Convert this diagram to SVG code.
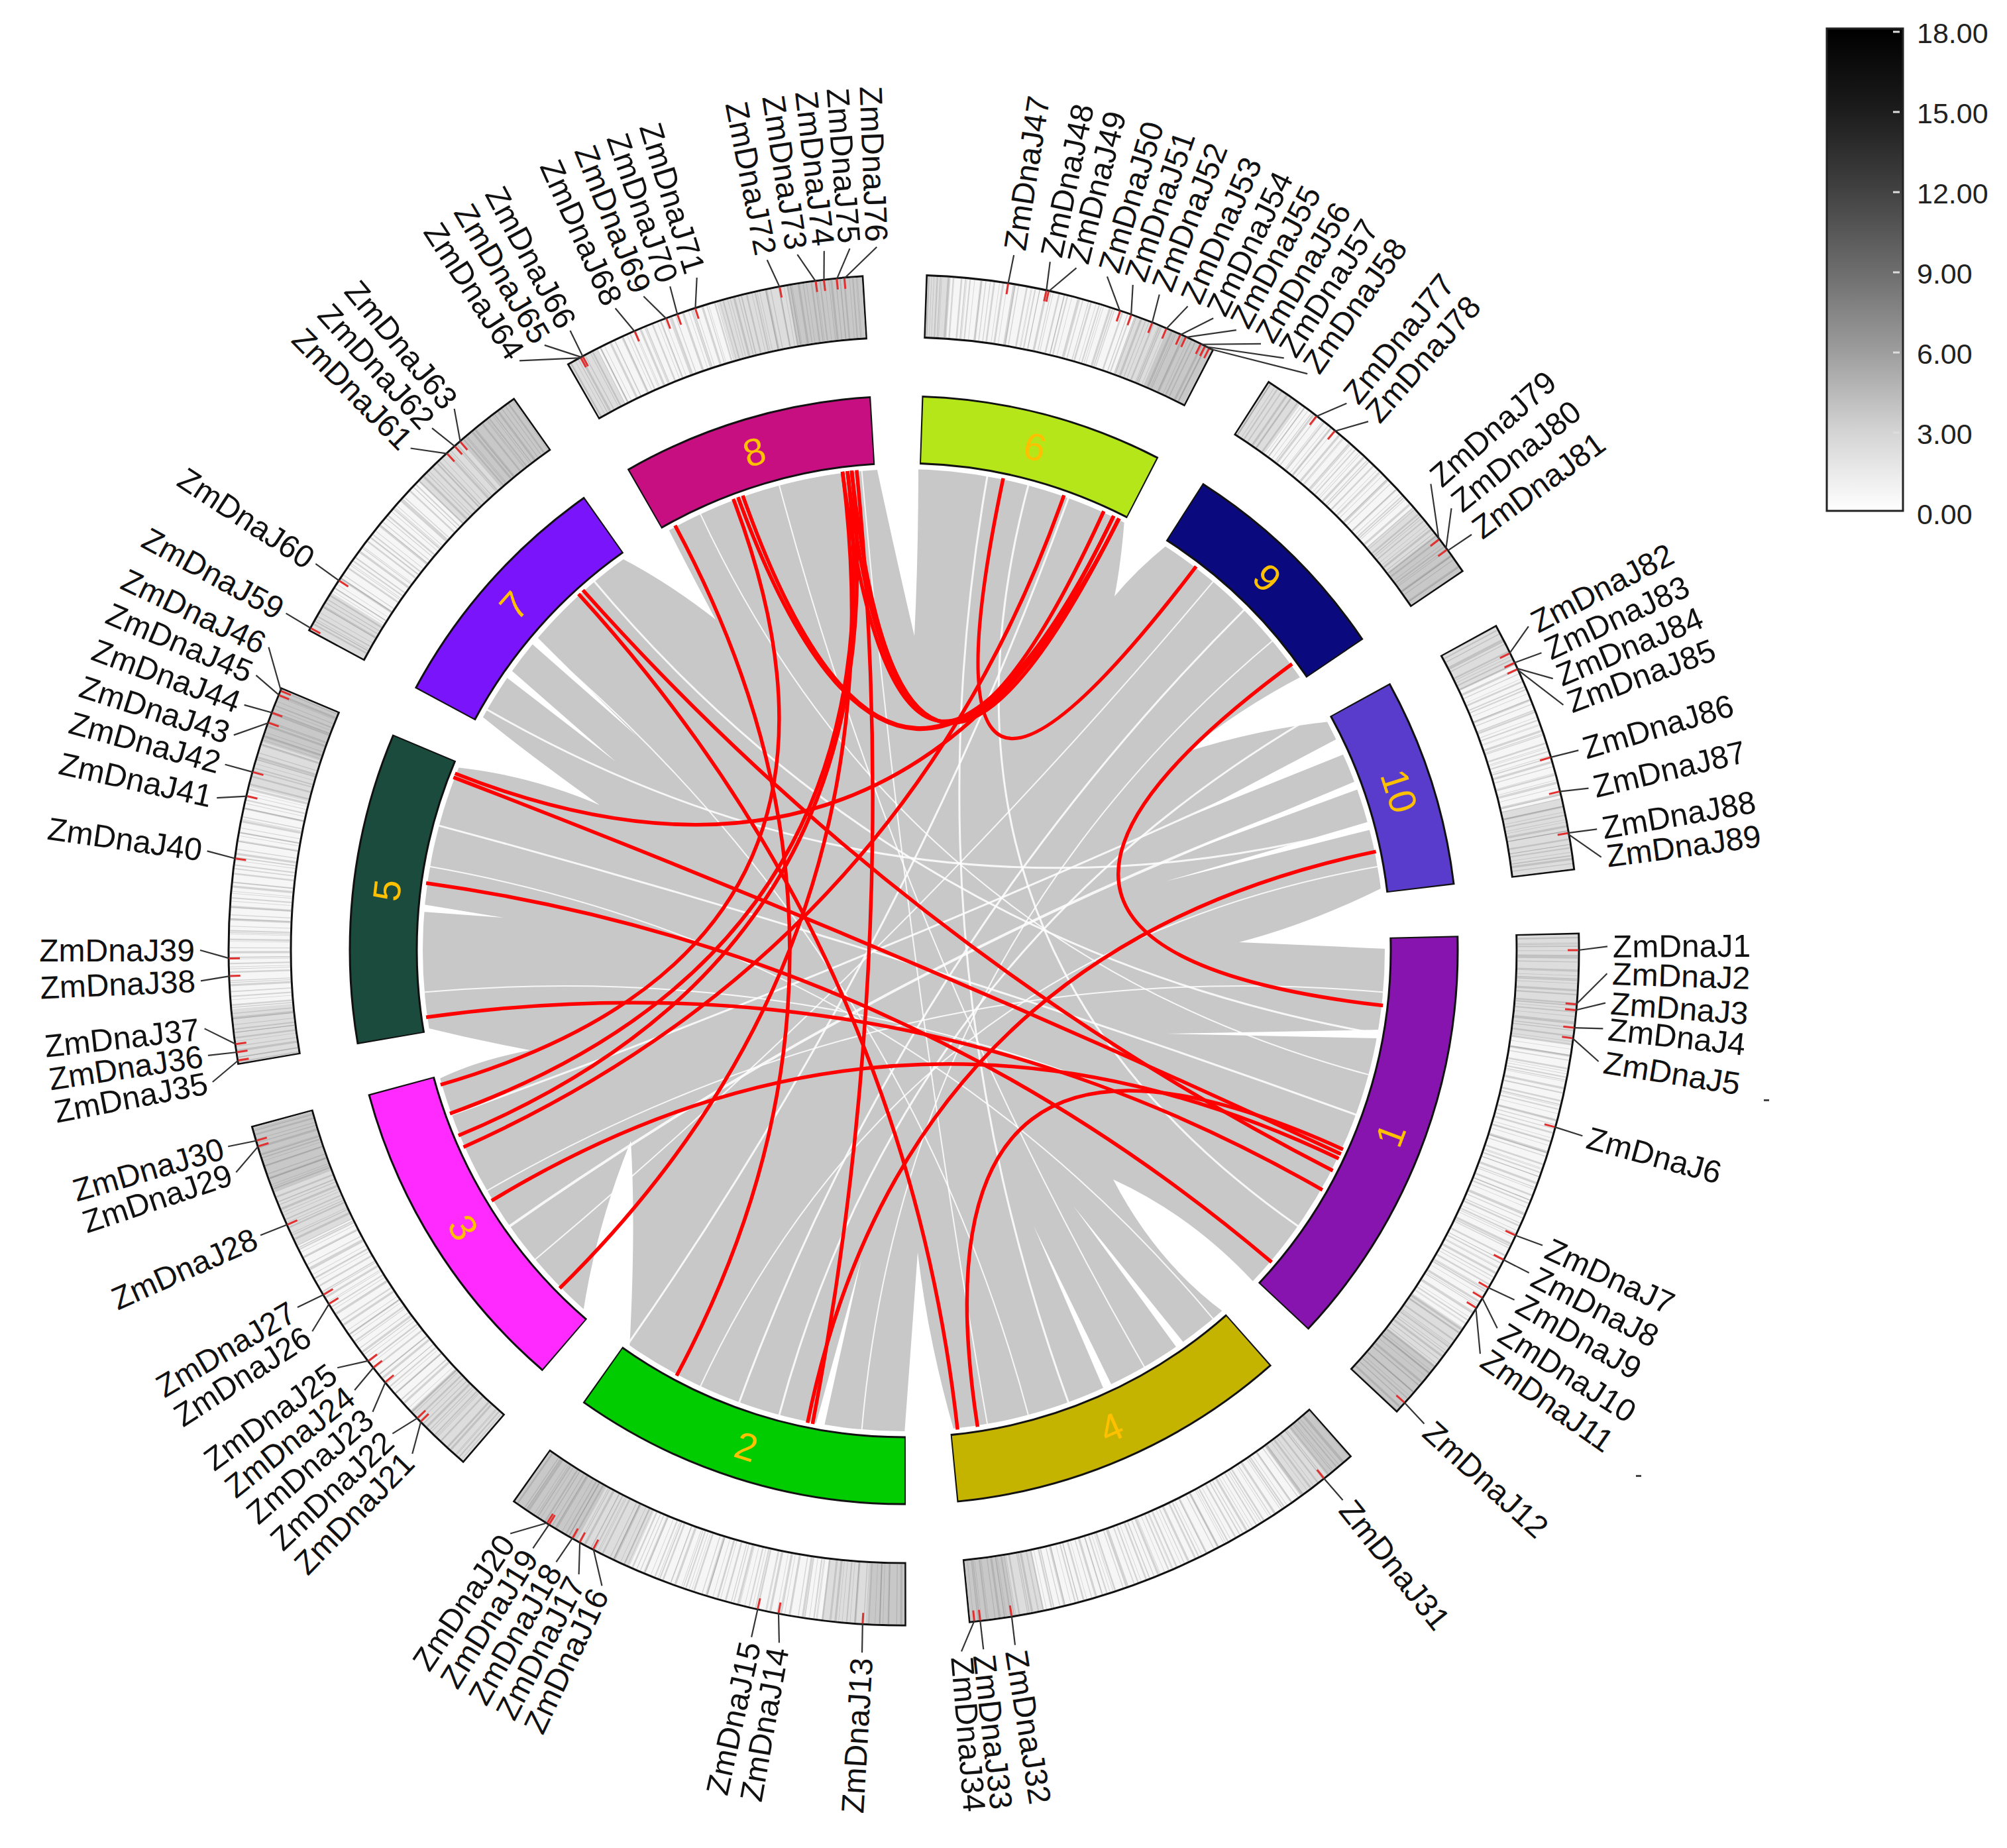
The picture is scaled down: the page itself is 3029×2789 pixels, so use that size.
<svg xmlns="http://www.w3.org/2000/svg" width="3029" height="2789" viewBox="0 0 3029 2789">
<style>
text{dominant-baseline:central;font-family:"Liberation Sans",Arial,sans-serif}
.lbl text{font-size:48px;fill:#111}
.lr{text-anchor:start}
.ll{text-anchor:end}
.cn{stroke:#333;stroke-width:2.2;fill:none}
.rl{stroke:#ff0000;stroke-width:5.5;fill:none}
.wl{stroke:#fff;fill:none;stroke-opacity:.85}
.wd{fill:#fff}
.tk line{stroke:#e03030;stroke-width:3}
.num{font-size:58px;fill:#FFC000;text-anchor:middle}
.rg{fill:none}
.cb{font-size:43px;fill:#222}
</style>
<defs>
<linearGradient id="cbg" x1="0" y1="0" x2="0" y2="1">
<stop offset="0" stop-color="#000"/><stop offset="0.17" stop-color="#1c1c1c"/><stop offset="0.33" stop-color="#404040"/><stop offset="0.5" stop-color="#6c6c6c"/><stop offset="0.67" stop-color="#9d9d9d"/><stop offset="0.83" stop-color="#d2d2d2"/><stop offset="1" stop-color="#fff"/>
</linearGradient>
<mask id="dm" maskUnits="userSpaceOnUse" x="0" y="0" width="3029" height="2789">
<circle cx="1364" cy="1434" r="972" fill="none" stroke="#fff" stroke-width="91" pathLength="360" stroke-dasharray="25.15 5.6 22.99 5.6 21.68 5.6 44.38 5.6 35.7 5.6 35.27 5.6 33.97 5.6 32.38 5.6 26.31 5.6 26.17 5.6" stroke-dashoffset="-2.03" transform="rotate(-90 1364 1434)"/>
</mask>
</defs>
<rect width="3029" height="2789" fill="#fff"/>

<g id="links">
<circle cx="1364" cy="1434" r="726" fill="#c8c8c8"/>
<path class="wd" d="M1323,705 Q1352,840 1380,960 Q1386,840 1386,704 L1387,690 L1323,690 Z"/>
<path class="wd" d="M1697,784 Q1692,850 1682,900 Q1715,860 1762,822 L1770,808 L1702,770 Z"/>
<path class="wd" d="M1966,1020 Q1870,1070 1790,1135 Q1900,1100 2007,1089 L2020,1082 L1978,1012 Z"/>
<path class="wd" d="M2088,1339 Q1975,1395 1870,1422 Q1985,1427 2094,1432 L2110,1432 L2104,1337 Z"/>
<path class="wd" d="M1894,1937 Q1800,1835 1680,1780 Q1745,1905 1848,1981 L1858,1992 L1904,1948 Z"/>
<path class="wd" d="M1440,2160 Q1400,2020 1385,1890 Q1375,2030 1365,2164 L1361,2180 L1442,2176 Z"/>
<path class="wd" d="M950,2036 Q960,1850 952,1722 Q900,1850 880,1981 L870,1992 L958,2048 Z"/>
<path class="wd" d="M661,1629 Q720,1600 800,1585 Q720,1570 643,1551 L630,1548 L646,1634 Z"/>
<path class="wd" d="M688,1158 Q800,1170 905,1215 Q800,1140 726,1080 L714,1070 L674,1155 Z"/>
<path class="wd" d="M937,842 Q1010,880 1080,935 Q1040,860 1008,797 L1000,785 L928,830 Z"/>
<path class="wd" d="M2018,1115 L1800,1230 L2029,1138 Z"/>
<path class="wd" d="M2066,1240 L1760,1330 L2069,1252 Z"/>
<path class="wd" d="M2046,1179 L1780,1290 L2050,1191 Z"/>
<path class="wd" d="M764,1022 L930,1150 L771,1011 Z"/>
<path class="wd" d="M802,971 L960,1110 L810,961 Z"/>
<path class="wd" d="M2082,1554 L1760,1560 L2080,1567 Z"/>
<path class="wd" d="M1678,2091 L1560,1850 L1666,2097 Z"/>
<path class="wd" d="M1787,2027 L1620,1820 L1776,2034 Z"/>
<path class="wd" d="M1244,2152 L1300,1900 L1231,2150 Z"/>
<path class="wd" d="M638,1376 L760,1385 L639,1365 Z"/>
<path class="wl" stroke-width="3" d="M2023.8,1126.3 Q1364,1434 679.9,1683"/>
<path class="wl" stroke-width="4" d="M2048.1,1185 Q1364,1434 767.6,1851.6"/>
<path class="wl" stroke-width="3" d="M2067.2,1245.6 Q1364,1434 733.5,1070"/>
<path class="wl" stroke-width="3" d="M1878.8,919.2 Q1364,1434 1115,2118.1"/>
<path class="wl" stroke-width="2" d="M1832,876.4 Q1364,1434 806.3,1902"/>
<path class="wl" stroke-width="3" d="M2080.9,1560.4 Q1364,1434 896,876.4"/>
<path class="wl" stroke-width="2" d="M2067.2,1622.4 Q1364,1434 1056.3,774.2"/>
<path class="wl" stroke-width="3" d="M2048.1,1683 Q1364,1434 660.8,1245.6"/>
<path class="wl" stroke-width="3" d="M1960.4,1851.6 Q1364,1434 1552.4,730.8"/>
<path class="wl" stroke-width="2" d="M1728,2064.4 Q1364,1434 1175.6,730.8"/>
<path class="wl" stroke-width="3" d="M1613,2118.1 Q1364,1434 1490.4,717.1"/>
<path class="wl" stroke-width="3" d="M1175.6,2137.2 Q1364,1434 2000.4,1070"/>
<path class="wl" stroke-width="2" d="M1056.3,2093.8 Q1364,1434 2080.9,1307.6"/>
<path class="wl" stroke-width="2" d="M733.5,1798 Q1364,1434 2089.2,1497.5"/>
<path class="wl" stroke-width="2" d="M638.8,1497.5 Q1364,1434 2000.4,1798"/>
<path class="wl" stroke-width="2" d="M647.1,1307.6 Q1364,1434 1832,1991.6"/>
<path class="wl" stroke-width="2" d="M806.3,966 Q1364,1434 1552.4,2137.2"/>
<path class="wl" stroke-width="3" d="M1613,749.9 Q1364,1434 946.4,2030.4"/>
<path class="wl" stroke-width="2" d="M1921.7,966 Q1364,1434 1300.5,2159.2"/>
<path class="wl" stroke-width="2" d="M1300.5,708.8 Q1364,1434 1490.4,2150.9"/>
<path class="rl" d="M1271.5,711.9 Q1364,1434 1665.9,771.5"/>
<path class="rl" d="M1279,711 Q1364,1434 1680.8,778.6"/>
<path class="rl" d="M1285.4,710.2 Q1364,1434 1688.8,782.5"/>
<path class="rl" d="M1113.8,750.3 Q1364,1434 1688.8,782.5"/>
<path class="rl" d="M1121,747.8 Q1364,1434 1680.8,778.6"/>
<path class="rl" d="M1292.9,709.5 Q1364,1434 1226.3,2148.9"/>
<path class="rl" d="M1018.8,793 Q1364,1434 1021.1,2076.2"/>
<path class="rl" d="M873.1,896.4 Q1364,1434 1445.2,2157.5"/>
<path class="rl" d="M879.7,890.5 Q1364,1434 2011.5,1766.8"/>
<path class="rl" d="M1514.1,721.7 Q1364,1434 1805.2,854.9"/>
<path class="rl" d="M1950,1002 Q1364,1434 2087.2,1517.6"/>
<path class="rl" d="M2076.6,1285.1 Q1364,1434 1218.8,2147.4"/>
<path class="rl" d="M686.7,1167.2 Q1364,1434 1688.8,782.5"/>
<path class="rl" d="M684.3,1173.1 Q1364,1434 2023.8,1741.7"/>
<path class="rl" d="M643.1,1332.7 Q1364,1434 1919.2,1904.9"/>
<path class="rl" d="M643.1,1535.3 Q1364,1434 1995.8,1795.8"/>
<path class="rl" d="M1475.4,2153.4 Q1364,1434 2027,1734.7"/>
<path class="rl" d="M664.9,1637.1 Q1364,1434 1106.7,753"/>
<path class="rl" d="M679,1680.6 Q1364,1434 1279,711"/>
<path class="rl" d="M691.9,1713.8 Q1364,1434 1285.4,710.2"/>
<path class="rl" d="M699.5,1731.2 Q1364,1434 1605.8,747.3"/>
<path class="rl" d="M741.9,1812.2 Q1364,1434 2020.5,1748.6"/>
<path class="rl" d="M844.7,1944.3 Q1364,1434 1271.5,711.9"/>
</g>

<g id="chromosomes">
<circle class="rg" cx="1364" cy="1434" r="785.5" stroke="#111" stroke-width="104" pathLength="360" stroke-dasharray="25.45 5.3 23.29 5.3 21.98 5.3 44.68 5.3 36 5.3 35.57 5.3 34.27 5.3 32.68 5.3 26.61 5.3 26.47 5.3" stroke-dashoffset="-1.88" transform="rotate(-90 1364 1434)"/>
<g id="chr6"><circle class="rg" cx="1364" cy="1434" r="785.5" stroke="#B5E61A" stroke-width="98" pathLength="360" stroke-dasharray="25.15 400" stroke-dashoffset="-2.03" transform="rotate(-90 1364 1434)"/><text class="num" x="1364" y="648.5" transform="rotate(14.6 1364 1434)">6</text></g>
<g id="chr9"><circle class="rg" cx="1364" cy="1434" r="785.5" stroke="#0A0A7E" stroke-width="98" pathLength="360" stroke-dasharray="22.99 400" stroke-dashoffset="-32.78" transform="rotate(-90 1364 1434)"/><text class="num" x="1364" y="648.5" transform="rotate(44.3 1364 1434)">9</text></g>
<g id="chr10"><circle class="rg" cx="1364" cy="1434" r="785.5" stroke="#5A3CCC" stroke-width="98" pathLength="360" stroke-dasharray="21.68 400" stroke-dashoffset="-61.37" transform="rotate(-90 1364 1434)"/><text class="num" x="1364" y="648.5" transform="rotate(72.2 1364 1434)">10</text></g>
<g id="chr1"><circle class="rg" cx="1364" cy="1434" r="785.5" stroke="#8714AF" stroke-width="98" pathLength="360" stroke-dasharray="44.38 400" stroke-dashoffset="-88.65" transform="rotate(-90 1364 1434)"/><text class="num" x="1364" y="2219.5" transform="rotate(-69.2 1364 1434)">1</text></g>
<g id="chr4"><circle class="rg" cx="1364" cy="1434" r="785.5" stroke="#C4B400" stroke-width="98" pathLength="360" stroke-dasharray="35.7 400" stroke-dashoffset="-138.63" transform="rotate(-90 1364 1434)"/><text class="num" x="1364" y="2219.5" transform="rotate(-23.5 1364 1434)">4</text></g>
<g id="chr2"><circle class="rg" cx="1364" cy="1434" r="785.5" stroke="#00CC00" stroke-width="98" pathLength="360" stroke-dasharray="35.27 400" stroke-dashoffset="-179.93" transform="rotate(-90 1364 1434)"/><text class="num" x="1364" y="2219.5" transform="rotate(17.6 1364 1434)">2</text></g>
<g id="chr3"><circle class="rg" cx="1364" cy="1434" r="785.5" stroke="#FF2AFF" stroke-width="98" pathLength="360" stroke-dasharray="33.97 400" stroke-dashoffset="-220.8" transform="rotate(-90 1364 1434)"/><text class="num" x="1364" y="2219.5" transform="rotate(57.8 1364 1434)">3</text></g>
<g id="chr5"><circle class="rg" cx="1364" cy="1434" r="785.5" stroke="#1B4B3C" stroke-width="98" pathLength="360" stroke-dasharray="32.38 400" stroke-dashoffset="-260.37" transform="rotate(-90 1364 1434)"/><text class="num" x="1364" y="648.5" transform="rotate(276.6 1364 1434)">5</text></g>
<g id="chr7"><circle class="rg" cx="1364" cy="1434" r="785.5" stroke="#7A14FA" stroke-width="98" pathLength="360" stroke-dasharray="26.31 400" stroke-dashoffset="-298.35" transform="rotate(-90 1364 1434)"/><text class="num" x="1364" y="648.5" transform="rotate(311.5 1364 1434)">7</text></g>
<g id="chr8"><circle class="rg" cx="1364" cy="1434" r="785.5" stroke="#C80F82" stroke-width="98" pathLength="360" stroke-dasharray="26.17 400" stroke-dashoffset="-330.26" transform="rotate(-90 1364 1434)"/><text class="num" x="1364" y="648.5" transform="rotate(343.3 1364 1434)">8</text></g>
</g>

<g id="density">
<circle class="rg" cx="1364" cy="1434" r="972" stroke="#111" stroke-width="97" pathLength="360" stroke-dasharray="25.45 5.3 23.29 5.3 21.98 5.3 44.68 5.3 36 5.3 35.57 5.3 34.27 5.3 32.68 5.3 26.61 5.3 26.47 5.3" stroke-dashoffset="-1.88" transform="rotate(-90 1364 1434)"/>
<circle class="rg" cx="1364" cy="1434" r="972" stroke="#f6f6f6" stroke-width="91" pathLength="360" stroke-dasharray="25.15 5.6 22.99 5.6 21.68 5.6 44.38 5.6 35.7 5.6 35.27 5.6 33.97 5.6 32.38 5.6 26.31 5.6 26.17 5.6" stroke-dashoffset="-2.03" transform="rotate(-90 1364 1434)"/>
<g mask="url(#dm)">
<circle class="rg" cx="1364" cy="1434" r="972" stroke="#b8b8b8" stroke-opacity="0.4" stroke-width="91" pathLength="360" stroke-dasharray="1.97 16 7.18 5.6 3.22 13 6.77 5.6 3.63 12 6.05 5.6 9.35 26 9.03 5.6 5.37 24 6.33 5.6 7.07 17 11.2 5.6 6.2 17 10.77 5.6 4.63 19 8.75 5.6 3.65 12 10.66 5.6 2.74 11 12.43 5.6" stroke-dashoffset="-2.03" transform="rotate(-90 1364 1434)"/>
<circle class="rg" cx="1364" cy="1434" r="972" stroke="#999" stroke-opacity="0.3" stroke-width="91" pathLength="360" stroke-dasharray="4.18 24.82 3.77 72.23 5.03 5.6 2.37 29.5 3.83 5.6 3.07 26 6.2 33.8 5.77 33.23 4.75 26.25 5.66 25.34 6.43 26.57" stroke-dashoffset="-23" transform="rotate(-90 1364 1434)"/>
<circle class="rg" cx="1364" cy="1434" r="972" stroke="#7a7a7a" stroke-opacity="0.28" stroke-width="91" pathLength="360" stroke-dasharray="0.12 0.3 0.05 0.45 0.2 0.25 0.08 0.6 0.15 0.35 0.05 0.2" transform="rotate(-90 1364 1434)"/>
<circle class="rg" cx="1364" cy="1434" r="972" stroke="#4a4a4a" stroke-opacity="0.22" stroke-width="91" pathLength="360" stroke-dasharray="0.05 0.9 0.1 1.3 0.04 0.7 0.07 1.1" transform="rotate(-90 1364 1434)"/>
</g>
<g class="tk">
<line x1="2366" y1="1434" x2="2382" y2="1434" transform="rotate(0 1364 1434)"/>
<line x1="2366" y1="1434" x2="2382" y2="1434" transform="rotate(4.6 1364 1434)"/>
<line x1="2366" y1="1434" x2="2382" y2="1434" transform="rotate(5.1 1364 1434)"/>
<line x1="2366" y1="1434" x2="2382" y2="1434" transform="rotate(6.6 1364 1434)"/>
<line x1="2366" y1="1434" x2="2382" y2="1434" transform="rotate(7.5 1364 1434)"/>
<line x1="2366" y1="1434" x2="2382" y2="1434" transform="rotate(15.2 1364 1434)"/>
<line x1="2366" y1="1434" x2="2382" y2="1434" transform="rotate(25 1364 1434)"/>
<line x1="2366" y1="1434" x2="2382" y2="1434" transform="rotate(27.3 1364 1434)"/>
<line x1="2366" y1="1434" x2="2382" y2="1434" transform="rotate(30 1364 1434)"/>
<line x1="2366" y1="1434" x2="2382" y2="1434" transform="rotate(31 1364 1434)"/>
<line x1="2366" y1="1434" x2="2382" y2="1434" transform="rotate(32 1364 1434)"/>
<line x1="2366" y1="1434" x2="2382" y2="1434" transform="rotate(42.1 1364 1434)"/>
<line x1="2366" y1="1434" x2="2382" y2="1434" transform="rotate(93.5 1364 1434)"/>
<line x1="2366" y1="1434" x2="2382" y2="1434" transform="rotate(100.7 1364 1434)"/>
<line x1="2366" y1="1434" x2="2382" y2="1434" transform="rotate(102.5 1364 1434)"/>
<line x1="2366" y1="1434" x2="2382" y2="1434" transform="rotate(117.4 1364 1434)"/>
<line x1="2366" y1="1434" x2="2382" y2="1434" transform="rotate(118.7 1364 1434)"/>
<line x1="2366" y1="1434" x2="2382" y2="1434" transform="rotate(119.4 1364 1434)"/>
<line x1="2366" y1="1434" x2="2382" y2="1434" transform="rotate(121.7 1364 1434)"/>
<line x1="2366" y1="1434" x2="2382" y2="1434" transform="rotate(121.9 1364 1434)"/>
<line x1="2366" y1="1434" x2="2382" y2="1434" transform="rotate(135.7 1364 1434)"/>
<line x1="2366" y1="1434" x2="2382" y2="1434" transform="rotate(136.1 1364 1434)"/>
<line x1="2366" y1="1434" x2="2382" y2="1434" transform="rotate(140.2 1364 1434)"/>
<line x1="2366" y1="1434" x2="2382" y2="1434" transform="rotate(141.8 1364 1434)"/>
<line x1="2366" y1="1434" x2="2382" y2="1434" transform="rotate(142.5 1364 1434)"/>
<line x1="2366" y1="1434" x2="2382" y2="1434" transform="rotate(148.4 1364 1434)"/>
<line x1="2366" y1="1434" x2="2382" y2="1434" transform="rotate(149.3 1364 1434)"/>
<line x1="2366" y1="1434" x2="2382" y2="1434" transform="rotate(156 1364 1434)"/>
<line x1="2366" y1="1434" x2="2382" y2="1434" transform="rotate(163.1 1364 1434)"/>
<line x1="2366" y1="1434" x2="2382" y2="1434" transform="rotate(163.6 1364 1434)"/>
<line x1="2366" y1="1434" x2="2382" y2="1434" transform="rotate(51.5 1364 1434)"/>
<line x1="2366" y1="1434" x2="2382" y2="1434" transform="rotate(80.8 1364 1434)"/>
<line x1="2366" y1="1434" x2="2382" y2="1434" transform="rotate(83.5 1364 1434)"/>
<line x1="2366" y1="1434" x2="2382" y2="1434" transform="rotate(84 1364 1434)"/>
<line x1="2366" y1="1434" x2="2382" y2="1434" transform="rotate(170.6 1364 1434)"/>
<line x1="2366" y1="1434" x2="2382" y2="1434" transform="rotate(171.3 1364 1434)"/>
<line x1="2366" y1="1434" x2="2382" y2="1434" transform="rotate(172 1364 1434)"/>
<line x1="2366" y1="1434" x2="2382" y2="1434" transform="rotate(177.8 1364 1434)"/>
<line x1="2366" y1="1434" x2="2382" y2="1434" transform="rotate(179.3 1364 1434)"/>
<line x1="2366" y1="1434" x2="2382" y2="1434" transform="rotate(187.8 1364 1434)"/>
<line x1="2366" y1="1434" x2="2382" y2="1434" transform="rotate(193.2 1364 1434)"/>
<line x1="2366" y1="1434" x2="2382" y2="1434" transform="rotate(195.3 1364 1434)"/>
<line x1="2366" y1="1434" x2="2382" y2="1434" transform="rotate(199.7 1364 1434)"/>
<line x1="2366" y1="1434" x2="2382" y2="1434" transform="rotate(200.6 1364 1434)"/>
<line x1="2366" y1="1434" x2="2382" y2="1434" transform="rotate(202.2 1364 1434)"/>
<line x1="2366" y1="1434" x2="2382" y2="1434" transform="rotate(202.6 1364 1434)"/>
<line x1="2366" y1="1434" x2="2382" y2="1434" transform="rotate(-81.1 1364 1434)"/>
<line x1="2366" y1="1434" x2="2382" y2="1434" transform="rotate(-77.8 1364 1434)"/>
<line x1="2366" y1="1434" x2="2382" y2="1434" transform="rotate(-77.6 1364 1434)"/>
<line x1="2366" y1="1434" x2="2382" y2="1434" transform="rotate(-71.3 1364 1434)"/>
<line x1="2366" y1="1434" x2="2382" y2="1434" transform="rotate(-70.3 1364 1434)"/>
<line x1="2366" y1="1434" x2="2382" y2="1434" transform="rotate(-68.4 1364 1434)"/>
<line x1="2366" y1="1434" x2="2382" y2="1434" transform="rotate(-67.1 1364 1434)"/>
<line x1="2366" y1="1434" x2="2382" y2="1434" transform="rotate(-65.8 1364 1434)"/>
<line x1="2366" y1="1434" x2="2382" y2="1434" transform="rotate(-65.3 1364 1434)"/>
<line x1="2366" y1="1434" x2="2382" y2="1434" transform="rotate(-63.9 1364 1434)"/>
<line x1="2366" y1="1434" x2="2382" y2="1434" transform="rotate(-63.5 1364 1434)"/>
<line x1="2366" y1="1434" x2="2382" y2="1434" transform="rotate(-63.1 1364 1434)"/>
<line x1="2366" y1="1434" x2="2382" y2="1434" transform="rotate(208.5 1364 1434)"/>
<line x1="2366" y1="1434" x2="2382" y2="1434" transform="rotate(213.2 1364 1434)"/>
<line x1="2366" y1="1434" x2="2382" y2="1434" transform="rotate(227.4 1364 1434)"/>
<line x1="2366" y1="1434" x2="2382" y2="1434" transform="rotate(228.3 1364 1434)"/>
<line x1="2366" y1="1434" x2="2382" y2="1434" transform="rotate(228.9 1364 1434)"/>
<line x1="2366" y1="1434" x2="2382" y2="1434" transform="rotate(241.4 1364 1434)"/>
<line x1="2366" y1="1434" x2="2382" y2="1434" transform="rotate(241.6 1364 1434)"/>
<line x1="2366" y1="1434" x2="2382" y2="1434" transform="rotate(246.5 1364 1434)"/>
<line x1="2366" y1="1434" x2="2382" y2="1434" transform="rotate(249.4 1364 1434)"/>
<line x1="2366" y1="1434" x2="2382" y2="1434" transform="rotate(250.4 1364 1434)"/>
<line x1="2366" y1="1434" x2="2382" y2="1434" transform="rotate(252 1364 1434)"/>
<line x1="2366" y1="1434" x2="2382" y2="1434" transform="rotate(259.4 1364 1434)"/>
<line x1="2366" y1="1434" x2="2382" y2="1434" transform="rotate(262.5 1364 1434)"/>
<line x1="2366" y1="1434" x2="2382" y2="1434" transform="rotate(263.2 1364 1434)"/>
<line x1="2366" y1="1434" x2="2382" y2="1434" transform="rotate(264.3 1364 1434)"/>
<line x1="2366" y1="1434" x2="2382" y2="1434" transform="rotate(264.95 1364 1434)"/>
<line x1="2366" y1="1434" x2="2382" y2="1434" transform="rotate(-52.3 1364 1434)"/>
<line x1="2366" y1="1434" x2="2382" y2="1434" transform="rotate(-50.3 1364 1434)"/>
<line x1="2366" y1="1434" x2="2382" y2="1434" transform="rotate(-37.5 1364 1434)"/>
<line x1="2366" y1="1434" x2="2382" y2="1434" transform="rotate(-36.4 1364 1434)"/>
<line x1="2366" y1="1434" x2="2382" y2="1434" transform="rotate(-26.1 1364 1434)"/>
<line x1="2366" y1="1434" x2="2382" y2="1434" transform="rotate(-25.2 1364 1434)"/>
<line x1="2366" y1="1434" x2="2382" y2="1434" transform="rotate(-24.6 1364 1434)"/>
<line x1="2366" y1="1434" x2="2382" y2="1434" transform="rotate(-16.6 1364 1434)"/>
<line x1="2366" y1="1434" x2="2382" y2="1434" transform="rotate(-13.6 1364 1434)"/>
<line x1="2366" y1="1434" x2="2382" y2="1434" transform="rotate(-10 1364 1434)"/>
</g>
</g>

<g id="labels" class="lbl">
<g id="ZmDnaJ1" transform="rotate(-0.3 1364 1434)"><line class="cn" x1="2382" y1="1439.3" x2="2426" y2="1434"/><text class="lr" x="2434" y="1434">ZmDnaJ1</text></g>
<g id="ZmDnaJ2" transform="rotate(1.9 1364 1434)"><line class="cn" x1="2380.9" y1="1482" x2="2426" y2="1434"/><text class="lr" x="2434" y="1434">ZmDnaJ2</text></g>
<g id="ZmDnaJ3" transform="rotate(4.3 1364 1434)"><line class="cn" x1="2381.9" y1="1448.2" x2="2426" y2="1434"/><text class="lr" x="2434" y="1434">ZmDnaJ3</text></g>
<g id="ZmDnaJ4" transform="rotate(6.4 1364 1434)"><line class="cn" x1="2382" y1="1437.6" x2="2426" y2="1434"/><text class="lr" x="2434" y="1434">ZmDnaJ4</text></g>
<g id="ZmDnaJ5" transform="rotate(9.1 1364 1434)"><line class="cn" x1="2381.6" y1="1405.6" x2="2426" y2="1434"/><text class="lr" x="2434" y="1434">ZmDnaJ5</text></g>
<g id="ZmDnaJ6" transform="rotate(15.3 1364 1434)"><line class="cn" x1="2382" y1="1432.2" x2="2426" y2="1434"/><text class="lr" x="2434" y="1434">ZmDnaJ6</text></g>
<g id="ZmDnaJ7" transform="rotate(24.8 1364 1434)"><line class="cn" x1="2382" y1="1437.6" x2="2426" y2="1434"/><text class="lr" x="2434" y="1434">ZmDnaJ7</text></g>
<g id="ZmDnaJ8" transform="rotate(27.3 1364 1434)"><line class="cn" x1="2382" y1="1434" x2="2426" y2="1434"/><text class="lr" x="2434" y="1434">ZmDnaJ8</text></g>
<g id="ZmDnaJ9" transform="rotate(29.8 1364 1434)"><line class="cn" x1="2382" y1="1437.6" x2="2426" y2="1434"/><text class="lr" x="2434" y="1434">ZmDnaJ9</text></g>
<g id="ZmDnaJ10" transform="rotate(32.5 1364 1434)"><line class="cn" x1="2381.7" y1="1407.3" x2="2426" y2="1434"/><text class="lr" x="2434" y="1434">ZmDnaJ10</text></g>
<g id="ZmDnaJ11" transform="rotate(35 1364 1434)"><line class="cn" x1="2380.6" y1="1380.7" x2="2426" y2="1434"/><text class="lr" x="2434" y="1434">ZmDnaJ11</text></g>
<g id="ZmDnaJ12" transform="rotate(42.3 1364 1434)"><line class="cn" x1="2382" y1="1430.4" x2="2426" y2="1434"/><text class="lr" x="2434" y="1434">ZmDnaJ12</text></g>
<g id="ZmDnaJ31" transform="rotate(51.4 1364 1434)"><line class="cn" x1="2382" y1="1435.8" x2="2426" y2="1434"/><text class="lr" x="2434" y="1434">ZmDnaJ31</text></g>
<g id="ZmDnaJ32" transform="rotate(80.9 1364 1434)"><line class="cn" x1="2382" y1="1432.2" x2="2426" y2="1434"/><text class="lr" x="2434" y="1434">ZmDnaJ32</text></g>
<g id="ZmDnaJ33" transform="rotate(83.5 1364 1434)"><line class="cn" x1="2382" y1="1434" x2="2426" y2="1434"/><text class="lr" x="2434" y="1434">ZmDnaJ33</text></g>
<g id="ZmDnaJ34" transform="rotate(85.3 1364 1434)"><line class="cn" x1="2381.7" y1="1410.9" x2="2426" y2="1434"/><text class="lr" x="2434" y="1434">ZmDnaJ34</text></g>
<g id="ZmDnaJ47" transform="rotate(-81 1364 1434)"><line class="cn" x1="2382" y1="1432.2" x2="2426" y2="1434"/><text class="lr" x="2434" y="1434">ZmDnaJ47</text></g>
<g id="ZmDnaJ48" transform="rotate(-78 1364 1434)"><line class="cn" x1="2382" y1="1437.6" x2="2426" y2="1434"/><text class="lr" x="2434" y="1434">ZmDnaJ48</text></g>
<g id="ZmDnaJ49" transform="rotate(-75.8 1364 1434)"><line class="cn" x1="2381.5" y1="1402" x2="2426" y2="1434"/><text class="lr" x="2434" y="1434">ZmDnaJ49</text></g>
<g id="ZmDnaJ50" transform="rotate(-73.2 1364 1434)"><line class="cn" x1="2381.4" y1="1467.8" x2="2426" y2="1434"/><text class="lr" x="2434" y="1434">ZmDnaJ50</text></g>
<g id="ZmDnaJ51" transform="rotate(-71 1364 1434)"><line class="cn" x1="2381.9" y1="1446.4" x2="2426" y2="1434"/><text class="lr" x="2434" y="1434">ZmDnaJ51</text></g>
<g id="ZmDnaJ52" transform="rotate(-68.7 1364 1434)"><line class="cn" x1="2382" y1="1439.3" x2="2426" y2="1434"/><text class="lr" x="2434" y="1434">ZmDnaJ52</text></g>
<g id="ZmDnaJ53" transform="rotate(-66.2 1364 1434)"><line class="cn" x1="2381.9" y1="1418" x2="2426" y2="1434"/><text class="lr" x="2434" y="1434">ZmDnaJ53</text></g>
<g id="ZmDnaJ54" transform="rotate(-63.9 1364 1434)"><line class="cn" x1="2381.4" y1="1400.2" x2="2426" y2="1434"/><text class="lr" x="2434" y="1434">ZmDnaJ54</text></g>
<g id="ZmDnaJ55" transform="rotate(-61.8 1364 1434)"><line class="cn" x1="2380.1" y1="1371.8" x2="2426" y2="1434"/><text class="lr" x="2434" y="1434">ZmDnaJ55</text></g>
<g id="ZmDnaJ56" transform="rotate(-59.5 1364 1434)"><line class="cn" x1="2379" y1="1355.8" x2="2426" y2="1434"/><text class="lr" x="2434" y="1434">ZmDnaJ56</text></g>
<g id="ZmDnaJ57" transform="rotate(-57.3 1364 1434)"><line class="cn" x1="2376" y1="1324.1" x2="2426" y2="1434"/><text class="lr" x="2434" y="1434">ZmDnaJ57</text></g>
<g id="ZmDnaJ58" transform="rotate(-55 1364 1434)"><line class="cn" x1="2371.8" y1="1290.6" x2="2426" y2="1434"/><text class="lr" x="2434" y="1434">ZmDnaJ58</text></g>
<g id="ZmDnaJ77" transform="rotate(-51 1364 1434)"><line class="cn" x1="2381.7" y1="1410.9" x2="2426" y2="1434"/><text class="lr" x="2434" y="1434">ZmDnaJ77</text></g>
<g id="ZmDnaJ78" transform="rotate(-48.7 1364 1434)"><line class="cn" x1="2381.6" y1="1405.6" x2="2426" y2="1434"/><text class="lr" x="2434" y="1434">ZmDnaJ78</text></g>
<g id="ZmDnaJ79" transform="rotate(-41.5 1364 1434)"><line class="cn" x1="2379.5" y1="1505" x2="2426" y2="1434"/><text class="lr" x="2434" y="1434">ZmDnaJ79</text></g>
<g id="ZmDnaJ80" transform="rotate(-38.9 1364 1434)"><line class="cn" x1="2381.1" y1="1476.6" x2="2426" y2="1434"/><text class="lr" x="2434" y="1434">ZmDnaJ80</text></g>
<g id="ZmDnaJ81" transform="rotate(-36.2 1364 1434)"><line class="cn" x1="2382" y1="1432.2" x2="2426" y2="1434"/><text class="lr" x="2434" y="1434">ZmDnaJ81</text></g>
<g id="ZmDnaJ82" transform="rotate(-27.4 1364 1434)"><line class="cn" x1="2381.7" y1="1457.1" x2="2426" y2="1434"/><text class="lr" x="2434" y="1434">ZmDnaJ82</text></g>
<g id="ZmDnaJ83" transform="rotate(-25 1364 1434)"><line class="cn" x1="2382" y1="1430.4" x2="2426" y2="1434"/><text class="lr" x="2434" y="1434">ZmDnaJ83</text></g>
<g id="ZmDnaJ84" transform="rotate(-22.7 1364 1434)"><line class="cn" x1="2381.4" y1="1398.5" x2="2426" y2="1434"/><text class="lr" x="2434" y="1434">ZmDnaJ84</text></g>
<g id="ZmDnaJ85" transform="rotate(-20.4 1364 1434)"><line class="cn" x1="2379.3" y1="1359.4" x2="2426" y2="1434"/><text class="lr" x="2434" y="1434">ZmDnaJ85</text></g>
<g id="ZmDnaJ86" transform="rotate(-16.5 1364 1434)"><line class="cn" x1="2382" y1="1432.2" x2="2426" y2="1434"/><text class="lr" x="2434" y="1434">ZmDnaJ86</text></g>
<g id="ZmDnaJ87" transform="rotate(-13.3 1364 1434)"><line class="cn" x1="2382" y1="1428.7" x2="2426" y2="1434"/><text class="lr" x="2434" y="1434">ZmDnaJ87</text></g>
<g id="ZmDnaJ88" transform="rotate(-9.9 1364 1434)"><line class="cn" x1="2382" y1="1432.2" x2="2426" y2="1434"/><text class="lr" x="2434" y="1434">ZmDnaJ88</text></g>
<g id="ZmDnaJ89" transform="rotate(-7.6 1364 1434)"><line class="cn" x1="2381.2" y1="1393.1" x2="2426" y2="1434"/><text class="lr" x="2434" y="1434">ZmDnaJ89</text></g>

<g id="ZmDnaJ13" transform="rotate(-86.6 1364 1434)"><line class="cn" x1="346" y1="1432.2" x2="302" y2="1434"/><text class="ll" x="294" y="1434">ZmDnaJ13</text></g>
<g id="ZmDnaJ14" transform="rotate(-79.8 1364 1434)"><line class="cn" x1="346" y1="1425.1" x2="302" y2="1434"/><text class="ll" x="294" y="1434">ZmDnaJ14</text></g>
<g id="ZmDnaJ15" transform="rotate(-77.5 1364 1434)"><line class="cn" x1="346" y1="1434" x2="302" y2="1434"/><text class="ll" x="294" y="1434">ZmDnaJ15</text></g>
<g id="ZmDnaJ16" transform="rotate(-64.6 1364 1434)"><line class="cn" x1="346.6" y1="1398.5" x2="302" y2="1434"/><text class="ll" x="294" y="1434">ZmDnaJ16</text></g>
<g id="ZmDnaJ17" transform="rotate(-62.5 1364 1434)"><line class="cn" x1="346.2" y1="1412.7" x2="302" y2="1434"/><text class="ll" x="294" y="1434">ZmDnaJ17</text></g>
<g id="ZmDnaJ18" transform="rotate(-60.4 1364 1434)"><line class="cn" x1="346" y1="1437.6" x2="302" y2="1434"/><text class="ll" x="294" y="1434">ZmDnaJ18</text></g>
<g id="ZmDnaJ19" transform="rotate(-58.2 1364 1434)"><line class="cn" x1="346" y1="1435.8" x2="302" y2="1434"/><text class="ll" x="294" y="1434">ZmDnaJ19</text></g>
<g id="ZmDnaJ20" transform="rotate(-56 1364 1434)"><line class="cn" x1="346.7" y1="1471.3" x2="302" y2="1434"/><text class="ll" x="294" y="1434">ZmDnaJ20</text></g>
<g id="ZmDnaJ21" transform="rotate(-45.7 1364 1434)"><line class="cn" x1="346.3" y1="1409.1" x2="302" y2="1434"/><text class="ll" x="294" y="1434">ZmDnaJ21</text></g>
<g id="ZmDnaJ22" transform="rotate(-43.4 1364 1434)"><line class="cn" x1="346" y1="1442.9" x2="302" y2="1434"/><text class="ll" x="294" y="1434">ZmDnaJ22</text></g>
<g id="ZmDnaJ23" transform="rotate(-41 1364 1434)"><line class="cn" x1="346.2" y1="1412.7" x2="302" y2="1434"/><text class="ll" x="294" y="1434">ZmDnaJ23</text></g>
<g id="ZmDnaJ24" transform="rotate(-38.7 1364 1434)"><line class="cn" x1="346" y1="1425.1" x2="302" y2="1434"/><text class="ll" x="294" y="1434">ZmDnaJ24</text></g>
<g id="ZmDnaJ25" transform="rotate(-36.4 1364 1434)"><line class="cn" x1="346.2" y1="1453.5" x2="302" y2="1434"/><text class="ll" x="294" y="1434">ZmDnaJ25</text></g>
<g id="ZmDnaJ26" transform="rotate(-32.8 1364 1434)"><line class="cn" x1="346.2" y1="1412.7" x2="302" y2="1434"/><text class="ll" x="294" y="1434">ZmDnaJ26</text></g>
<g id="ZmDnaJ27" transform="rotate(-30.5 1364 1434)"><line class="cn" x1="346" y1="1437.6" x2="302" y2="1434"/><text class="ll" x="294" y="1434">ZmDnaJ27</text></g>
<g id="ZmDnaJ28" transform="rotate(-23.9 1364 1434)"><line class="cn" x1="346" y1="1435.8" x2="302" y2="1434"/><text class="ll" x="294" y="1434">ZmDnaJ28</text></g>
<g id="ZmDnaJ29" transform="rotate(-18.4 1364 1434)"><line class="cn" x1="346.3" y1="1407.3" x2="302" y2="1434"/><text class="ll" x="294" y="1434">ZmDnaJ29</text></g>
<g id="ZmDnaJ30" transform="rotate(-16.2 1364 1434)"><line class="cn" x1="346" y1="1437.6" x2="302" y2="1434"/><text class="ll" x="294" y="1434">ZmDnaJ30</text></g>
<g id="ZmDnaJ35" transform="rotate(-10.8 1364 1434)"><line class="cn" x1="346.3" y1="1409.1" x2="302" y2="1434"/><text class="ll" x="294" y="1434">ZmDnaJ35</text></g>
<g id="ZmDnaJ36" transform="rotate(-8.6 1364 1434)"><line class="cn" x1="346" y1="1435.8" x2="302" y2="1434"/><text class="ll" x="294" y="1434">ZmDnaJ36</text></g>
<g id="ZmDnaJ37" transform="rotate(-6.4 1364 1434)"><line class="cn" x1="346.4" y1="1462.4" x2="302" y2="1434"/><text class="ll" x="294" y="1434">ZmDnaJ37</text></g>
<g id="ZmDnaJ38" transform="rotate(-2.5 1364 1434)"><line class="cn" x1="346" y1="1428.7" x2="302" y2="1434"/><text class="ll" x="294" y="1434">ZmDnaJ38</text></g>
<g id="ZmDnaJ39" transform="rotate(0 1364 1434)"><line class="cn" x1="346.1" y1="1446.4" x2="302" y2="1434"/><text class="ll" x="294" y="1434">ZmDnaJ39</text></g>
<g id="ZmDnaJ40" transform="rotate(8.1 1364 1434)"><line class="cn" x1="346" y1="1439.3" x2="302" y2="1434"/><text class="ll" x="294" y="1434">ZmDnaJ40</text></g>
<g id="ZmDnaJ41" transform="rotate(12.5 1364 1434)"><line class="cn" x1="346.1" y1="1421.6" x2="302" y2="1434"/><text class="ll" x="294" y="1434">ZmDnaJ41</text></g>
<g id="ZmDnaJ42" transform="rotate(15.3 1364 1434)"><line class="cn" x1="346" y1="1434" x2="302" y2="1434"/><text class="ll" x="294" y="1434">ZmDnaJ42</text></g>
<g id="ZmDnaJ43" transform="rotate(17.8 1364 1434)"><line class="cn" x1="346.6" y1="1400.2" x2="302" y2="1434"/><text class="ll" x="294" y="1434">ZmDnaJ43</text></g>
<g id="ZmDnaJ44" transform="rotate(20.4 1364 1434)"><line class="cn" x1="346" y1="1430.4" x2="302" y2="1434"/><text class="ll" x="294" y="1434">ZmDnaJ44</text></g>
<g id="ZmDnaJ45" transform="rotate(23 1364 1434)"><line class="cn" x1="346.1" y1="1448.2" x2="302" y2="1434"/><text class="ll" x="294" y="1434">ZmDnaJ45</text></g>
<g id="ZmDnaJ46" transform="rotate(25.5 1364 1434)"><line class="cn" x1="347.3" y1="1485.5" x2="302" y2="1434"/><text class="ll" x="294" y="1434">ZmDnaJ46</text></g>
<g id="ZmDnaJ59" transform="rotate(28.6 1364 1434)"><line class="cn" x1="346" y1="1435.8" x2="302" y2="1434"/><text class="ll" x="294" y="1434">ZmDnaJ59</text></g>
<g id="ZmDnaJ60" transform="rotate(33.3 1364 1434)"><line class="cn" x1="346" y1="1435.8" x2="302" y2="1434"/><text class="ll" x="294" y="1434">ZmDnaJ60</text></g>
<g id="ZmDnaJ61" transform="rotate(45.5 1364 1434)"><line class="cn" x1="346.6" y1="1400.2" x2="302" y2="1434"/><text class="ll" x="294" y="1434">ZmDnaJ61</text></g>
<g id="ZmDnaJ62" transform="rotate(47.9 1364 1434)"><line class="cn" x1="346" y1="1426.9" x2="302" y2="1434"/><text class="ll" x="294" y="1434">ZmDnaJ62</text></g>
<g id="ZmDnaJ63" transform="rotate(50.3 1364 1434)"><line class="cn" x1="346.3" y1="1458.9" x2="302" y2="1434"/><text class="ll" x="294" y="1434">ZmDnaJ63</text></g>
<g id="ZmDnaJ64" transform="rotate(56.9 1364 1434)"><line class="cn" x1="349.1" y1="1354.1" x2="302" y2="1434"/><text class="ll" x="294" y="1434">ZmDnaJ64</text></g>
<g id="ZmDnaJ65" transform="rotate(59.3 1364 1434)"><line class="cn" x1="346.8" y1="1394.9" x2="302" y2="1434"/><text class="ll" x="294" y="1434">ZmDnaJ65</text></g>
<g id="ZmDnaJ66" transform="rotate(61.7 1364 1434)"><line class="cn" x1="346" y1="1435.8" x2="302" y2="1434"/><text class="ll" x="294" y="1434">ZmDnaJ66</text></g>
<g id="ZmDnaJ68" transform="rotate(65.8 1364 1434)"><line class="cn" x1="346.1" y1="1421.6" x2="302" y2="1434"/><text class="ll" x="294" y="1434">ZmDnaJ68</text></g>
<g id="ZmDnaJ69" transform="rotate(68.3 1364 1434)"><line class="cn" x1="346.2" y1="1414.5" x2="302" y2="1434"/><text class="ll" x="294" y="1434">ZmDnaJ69</text></g>
<g id="ZmDnaJ70" transform="rotate(70.6 1364 1434)"><line class="cn" x1="346" y1="1437.6" x2="302" y2="1434"/><text class="ll" x="294" y="1434">ZmDnaJ70</text></g>
<g id="ZmDnaJ71" transform="rotate(72.9 1364 1434)"><line class="cn" x1="346.1" y1="1450" x2="302" y2="1434"/><text class="ll" x="294" y="1434">ZmDnaJ71</text></g>
<g id="ZmDnaJ72" transform="rotate(78.8 1364 1434)"><line class="cn" x1="346.1" y1="1423.3" x2="302" y2="1434"/><text class="ll" x="294" y="1434">ZmDnaJ72</text></g>
<g id="ZmDnaJ73" transform="rotate(81.3 1364 1434)"><line class="cn" x1="346.2" y1="1412.7" x2="302" y2="1434"/><text class="ll" x="294" y="1434">ZmDnaJ73</text></g>
<g id="ZmDnaJ74" transform="rotate(83.5 1364 1434)"><line class="cn" x1="346" y1="1439.3" x2="302" y2="1434"/><text class="ll" x="294" y="1434">ZmDnaJ74</text></g>
<g id="ZmDnaJ75" transform="rotate(85.6 1364 1434)"><line class="cn" x1="346.3" y1="1457.1" x2="302" y2="1434"/><text class="ll" x="294" y="1434">ZmDnaJ75</text></g>
<g id="ZmDnaJ76" transform="rotate(87.8 1364 1434)"><line class="cn" x1="347.3" y1="1484.6" x2="302" y2="1434"/><text class="ll" x="294" y="1434">ZmDnaJ76</text></g>
</g>

<g id="colorbar">
<rect x="2757" y="43" width="115" height="728" fill="url(#cbg)" stroke="#222" stroke-width="3"/>
<g stroke="#ddd" stroke-width="3">
<line x1="2857" y1="48" x2="2867" y2="48"/><line x1="2857" y1="169" x2="2867" y2="169"/><line x1="2857" y1="290" x2="2867" y2="290"/><line x1="2857" y1="411" x2="2867" y2="411"/><line x1="2857" y1="532" x2="2867" y2="532"/><line x1="2857" y1="653" x2="2867" y2="653"/>
</g>
<text class="cb" x="2893" y="50">18.00</text>
<text class="cb" x="2893" y="171">15.00</text>
<text class="cb" x="2893" y="292">12.00</text>
<text class="cb" x="2893" y="413">9.00</text>
<text class="cb" x="2893" y="534">6.00</text>
<text class="cb" x="2893" y="655">3.00</text>
<text class="cb" x="2893" y="776">0.00</text>
</g>
<rect x="2662" y="1659" width="8" height="3" fill="#444"/>
<rect x="2469" y="2226" width="8" height="3" fill="#444"/>
</svg>
